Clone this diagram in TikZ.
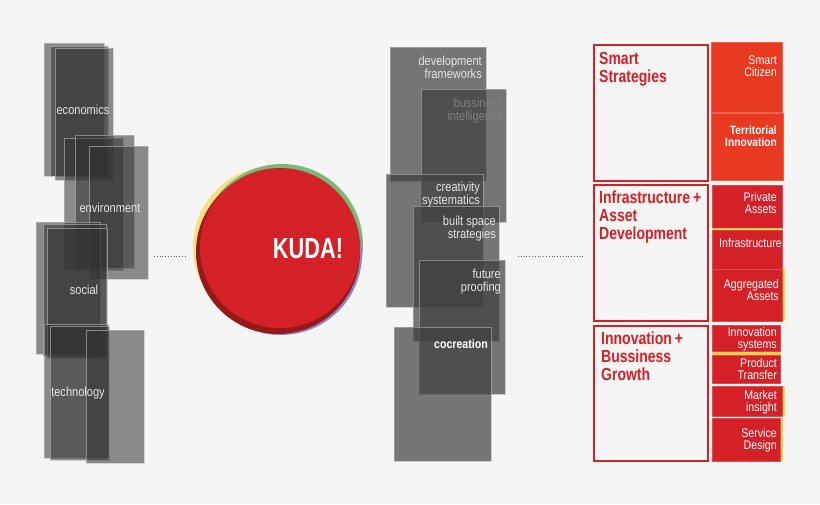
\documentclass[tikz,border=0pt]{standalone}
\usepackage{fontspec}
\setmainfont[FakeStretch=0.85]{Liberation Sans}
\newfontfamily\kfont[FakeStretch=0.75]{Liberation Sans}
\newfontfamily\tfont[FakeStretch=0.8]{Liberation Sans}
\begin{document}
\begin{tikzpicture}[x=1pt,y=-1pt,
  gbox/.style={fill=black!80,fill opacity=0.55,draw=white!75!black,draw opacity=0.6,line width=0.8pt},
  mbox/.style={fill=black!75,fill opacity=0.7,draw=white!70!black,draw opacity=0.6,line width=0.8pt},
  glab/.style={text=white!90!black,font=\fontsize{13}{12.5}\selectfont,align=right,inner sep=0pt},
  outline/.style={draw=kred,line width=2pt},
  rbox/.style={fill=kred,draw=kred!80!white,line width=0.5pt},
  obox/.style={fill=korange,draw=korange!80!white,line width=0.5pt},
  rlab/.style={text=white,font=\fontsize{12.5}{12}\selectfont,align=right,inner sep=0pt,anchor=east},
  tlab/.style={text=kred,font=\tfont\bfseries\fontsize{17.5}{18}\selectfont,align=left,inner sep=0pt,anchor=north west},
  dots/.style={draw=black!60,dotted,line width=0.8pt}]
\definecolor{kred}{HTML}{D42027}
\definecolor{korange}{HTML}{E83A20}
\definecolor{kyel}{HTML}{F2D34A}
\fill[white!96!black] (0,0) rectangle (820,504);
% left column
\draw[gbox] (44,43) rectangle (104,176);
\draw[gbox] (50,46) rectangle (108,176);
\draw[gbox] (55,48) rectangle (113,180);
\draw[gbox] (64,138) rectangle (123,270);
\draw[gbox] (75,135) rectangle (134,268);
\draw[gbox] (89,146) rectangle (148,279);
\draw[gbox] (36,222) rectangle (100,354);
\draw[gbox] (43,224) rectangle (106,356);
\draw[gbox] (47,228) rectangle (107,358);
\draw[gbox] (44,324) rectangle (108,458);
\draw[gbox] (50,326) rectangle (109,460);
\draw[gbox] (86,330) rectangle (144,463);
\node[glab] (eco) at (83,110) {economics};
\node[glab] (env) at (110,208) {environment};
\node[glab] (soc) at (84,290) {social};
\node[glab] (tec) at (78,393) {technology};
% circle
\fill[kyel!70!white] (274,247) circle (81);
\fill[green!30!gray!80!white] (282,245) circle (81);
\fill[blue!35!gray!70!white] (281,254) circle (81);
\fill[red!55!black!90!white] (278,252) circle (82);
\fill[kred] (280,248) circle (80);
\node[text=white,font=\kfont\bfseries\fontsize{29}{29}\selectfont,inner sep=0pt] (kuda) at (308,249) {KUDA!};
\coordinate (d1) at (154,256); \coordinate (d2) at (186,256);
\draw[dots] (d1) -- (d2);
% middle column
\draw[mbox] (390,47) rectangle (486,181);
\draw[mbox] (421,89) rectangle (506,222);
\draw[mbox] (386,174) rectangle (483,307);
\draw[mbox] (413,206) rectangle (499,341);
\draw[mbox] (419,260) rectangle (505,394);
\draw[mbox] (394,327) rectangle (491,461);
\node[glab,anchor=north east] (dev) at (482,56) {development\\frameworks};
\node[glab,anchor=north east,text=black!50] (bus) at (503,98) {bussiness\\intelligence};
\node[glab,anchor=north east] (cre) at (480,182) {creativity\\systematics};
\node[glab,anchor=north east] (bui) at (496,216) {built space\\strategies};
\node[glab,anchor=north east] (fut) at (501,269) {future\\proofing};
\node[glab,font=\bfseries\fontsize{12.5}{11}\selectfont,text=white] (coc) at (461,344) {cocreation};
\coordinate (d3) at (518,256); \coordinate (d4) at (584,256);
\draw[dots] (d3) -- (d4);
% right column
\draw[outline] (594,45) rectangle (708,181);
\draw[outline] (594,185) rectangle (708,321);
\draw[outline] (594,326) rectangle (708,461);
\node[tlab] (ss) at (599,52) {Smart\\Strategies};
\node[tlab] (ia) at (599,191) {Infrastructure\,+\\Asset\\Development};
\node[tlab] (ib) at (601,332) {Innovation\,+\\Bussiness\\Growth};
\draw[obox] (711,42) rectangle (782,112);
\draw[obox] (711,113) rectangle (783,180);
\draw[rbox] (712,185) rectangle (782,228);
\fill[kyel] (712,228) rectangle (782,231);
\draw[rbox] (712,230) rectangle (782,269);
\fill[kyel] (781,269) rectangle (785,321);
\draw[rbox] (712,269) rectangle (782,321);
\fill[kyel] (712,351) rectangle (781,355);
\draw[rbox] (712,325) rectangle (780,351);
\draw[rbox] (712,355) rectangle (780,383);
\fill[kyel] (781,386) rectangle (785,416);
\draw[rbox] (712,386) rectangle (782,416);
\fill[kyel] (779,418) rectangle (783,461);
\draw[rbox] (712,418) rectangle (780,461);
\node[rlab] (sc) at (777,66) {Smart\\Citizen};
\node[rlab,font=\bfseries\fontsize{12}{12}\selectfont] (ti) at (777,136) {Territorial\\Innovation};
\node[rlab] (pa) at (777,203) {Private\\Assets};
\node[rlab] (inf) at (782,243) {Infrastructure};
\node[rlab] (ag) at (779,290) {Aggregated\\Assets};
\node[rlab] (is) at (777,339) {Innovation\\systems};
\node[rlab] (pt) at (777,369) {Product\\Transfer};
\node[rlab] (mi) at (777,402) {Market\\insight};
\node[rlab] (sd) at (777,440) {Service\\Design};
\end{tikzpicture}
\end{document}
